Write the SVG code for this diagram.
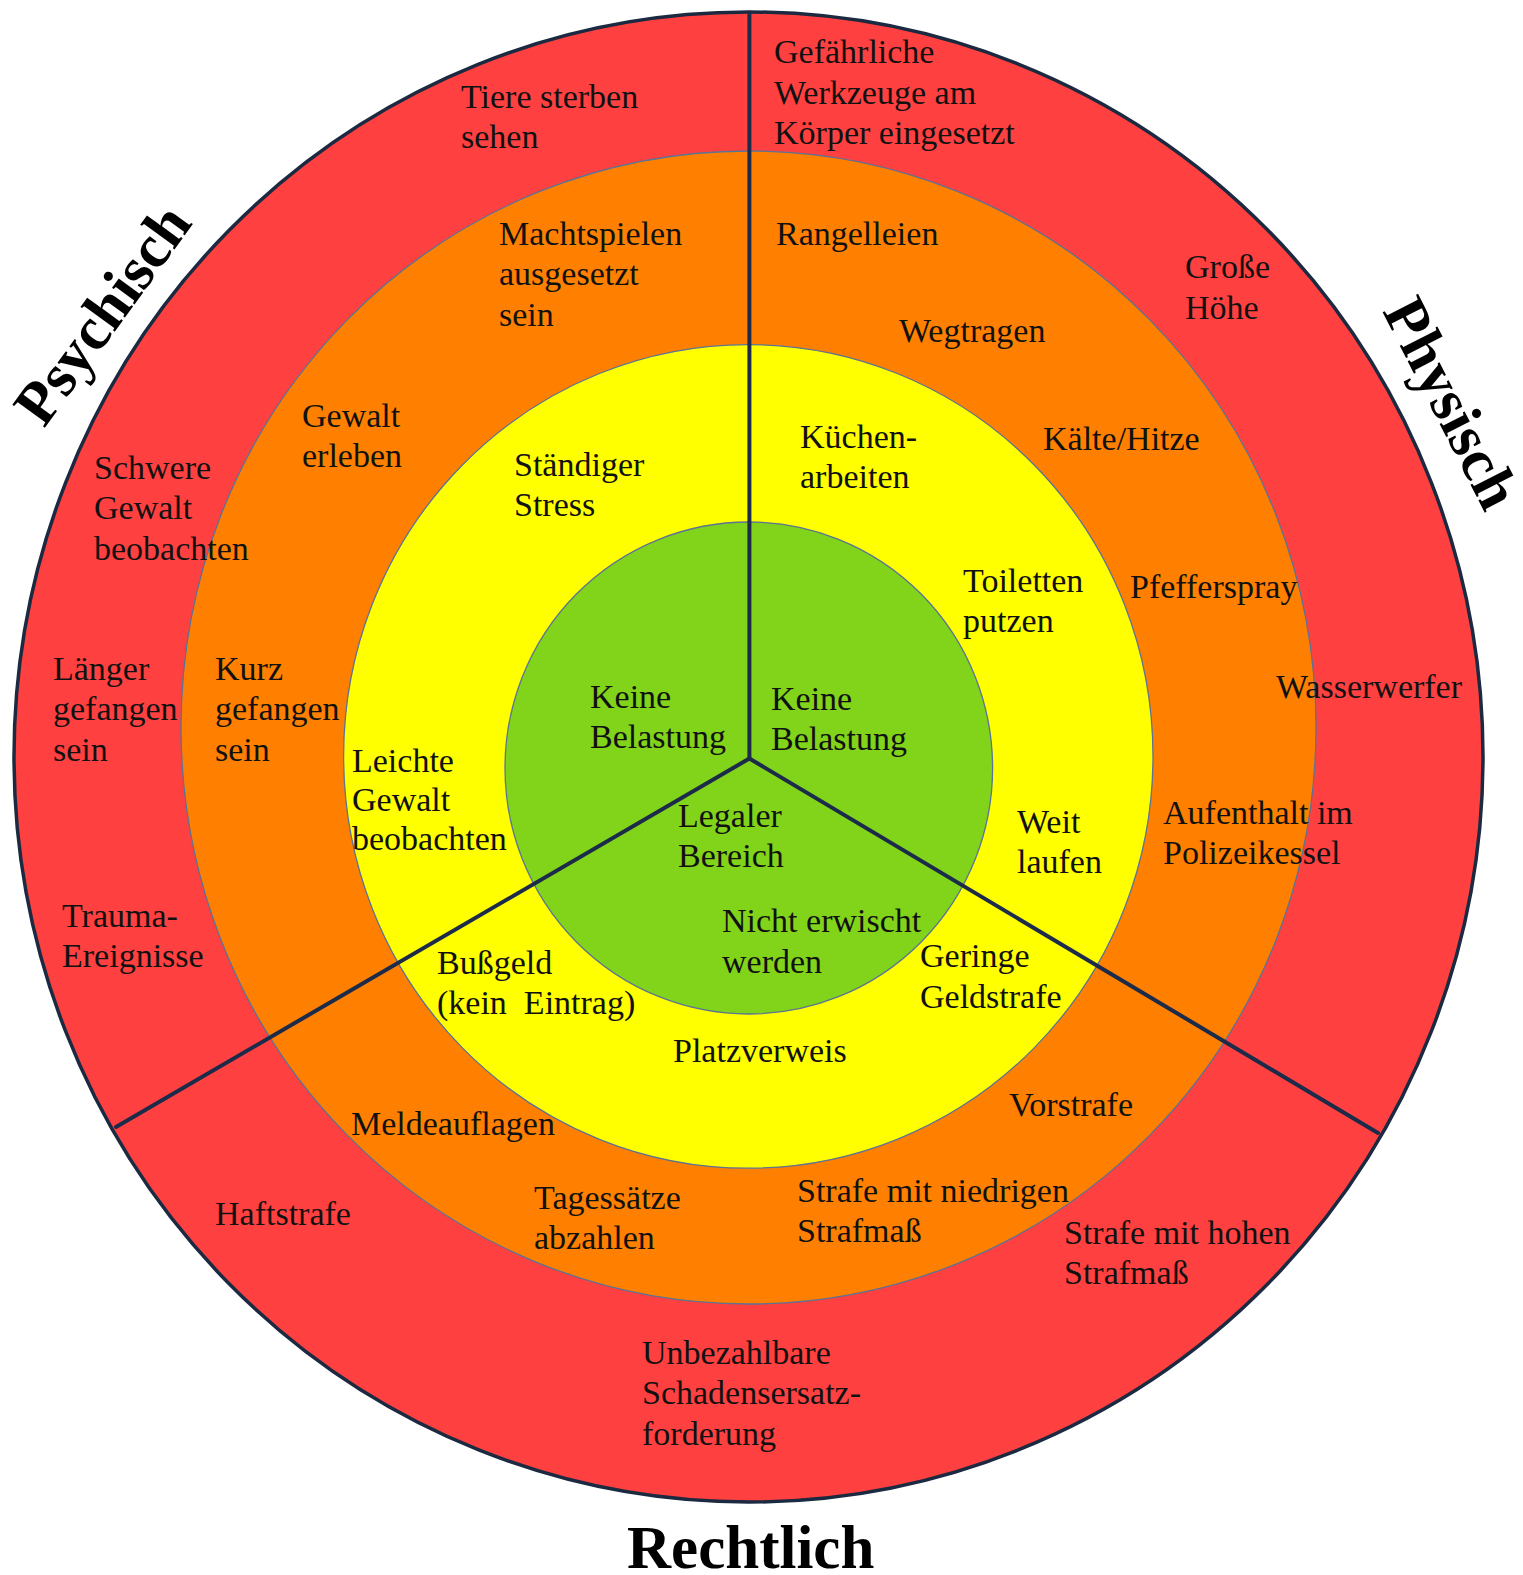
<svg xmlns="http://www.w3.org/2000/svg" width="1523" height="1575" viewBox="0 0 1523 1575">
<style>
.t{font-family:"Liberation Serif","Times New Roman",serif;font-size:34px;fill:#111}
.h{font-family:"Liberation Serif","Times New Roman",serif;font-size:61px;font-weight:bold;fill:#000}
.ring{stroke:#5b7394;stroke-width:1.3}
.sep{stroke:#1c2b4a;stroke-width:4;stroke-linecap:round;fill:none}
</style>
<rect width="1523" height="1575" fill="#fff"/>
<g id="rings">
<ellipse id="ring-red" cx="748.5" cy="757" rx="734.5" ry="745" fill="#ff4040" stroke="#1b2a40" stroke-width="3.5"/>
<ellipse id="ring-orange" class="ring" cx="748.5" cy="727.5" rx="567.5" ry="576.5" fill="#ff8000"/>
<ellipse id="ring-yellow" class="ring" cx="748.3" cy="756.4" rx="404.7" ry="411.8" fill="#ffff00"/>
<ellipse id="ring-green" class="ring" cx="748.8" cy="768" rx="243.8" ry="246" fill="#81d41a"/>
</g>
<g id="connectors">
<line class="sep" x1="749.4" y1="758.5" x2="749.4" y2="14"/>
<line class="sep" x1="749.4" y1="758.5" x2="116" y2="1127"/>
<line class="sep" x1="749.4" y1="758.5" x2="1378" y2="1133"/>
</g>
<g id="titles">
<text id="title-psychisch" class="h" transform="translate(44,429) rotate(-54)">Psychisch</text>
<text id="title-physisch" class="h" transform="translate(1382,311) rotate(63)">Physisch</text>
<text id="title-rechtlich" class="h" x="627" y="1568">Rechtlich</text>
</g>
<g id="labels">
<g id="n-tiere"><text class="t" x="461" y="107.5">Tiere sterben</text><text class="t" x="461" y="147.7">sehen</text></g>
<g id="n-werkzeuge"><text class="t" x="774" y="63.3">Gefährliche</text><text class="t" x="774" y="103.5">Werkzeuge am</text><text class="t" x="774" y="143.7">Körper eingesetzt</text></g>
<g id="n-macht"><text class="t" x="499" y="245">Machtspielen</text><text class="t" x="499" y="285.3">ausgesetzt</text><text class="t" x="499" y="325.5">sein</text></g>
<g id="n-rangel"><text class="t" x="776" y="245">Rangelleien</text></g>
<g id="n-hoehe"><text class="t" x="1185" y="278.3">Große</text><text class="t" x="1185" y="318.5">Höhe</text></g>
<g id="n-wegtragen"><text class="t" x="899" y="341.6">Wegtragen</text></g>
<g id="n-gewalt-erleben"><text class="t" x="302" y="427">Gewalt</text><text class="t" x="302" y="467">erleben</text></g>
<g id="n-schwere"><text class="t" x="94" y="479">Schwere</text><text class="t" x="94" y="519.4">Gewalt</text><text class="t" x="94" y="559.6">beobachten</text></g>
<g id="n-stress"><text class="t" x="514" y="476">Ständiger</text><text class="t" x="514" y="516">Stress</text></g>
<g id="n-kueche"><text class="t" x="800" y="448">Küchen-</text><text class="t" x="800" y="488">arbeiten</text></g>
<g id="n-kaelte"><text class="t" x="1043" y="450">Kälte/Hitze</text></g>
<g id="n-toiletten"><text class="t" x="963" y="591.7">Toiletten</text><text class="t" x="963" y="632">putzen</text></g>
<g id="n-pfeffer"><text class="t" x="1130" y="597.7">Pfefferspray</text></g>
<g id="n-laenger"><text class="t" x="53" y="680">Länger</text><text class="t" x="53" y="720">gefangen</text><text class="t" x="53" y="760.5">sein</text></g>
<g id="n-kurz"><text class="t" x="215" y="680">Kurz</text><text class="t" x="215" y="720">gefangen</text><text class="t" x="215" y="760.5">sein</text></g>
<g id="n-keine-l"><text class="t" x="590" y="708">Keine</text><text class="t" x="590" y="748">Belastung</text></g>
<g id="n-keine-r"><text class="t" x="771" y="710">Keine</text><text class="t" x="771" y="750">Belastung</text></g>
<g id="n-wasser"><text class="t" x="1276" y="698">Wasserwerfer</text></g>
<g id="n-leichte"><text class="t" x="352" y="771.5">Leichte</text><text class="t" x="352" y="810.7">Gewalt</text><text class="t" x="352" y="850">beobachten</text></g>
<g id="n-legal"><text class="t" x="678" y="827">Legaler</text><text class="t" x="678" y="867">Bereich</text></g>
<g id="n-weit"><text class="t" x="1017" y="833">Weit</text><text class="t" x="1017" y="873">laufen</text></g>
<g id="n-kessel"><text class="t" x="1163" y="824">Aufenthalt im</text><text class="t" x="1163" y="864">Polizeikessel</text></g>
<g id="n-trauma"><text class="t" x="62" y="927">Trauma-</text><text class="t" x="62" y="967">Ereignisse</text></g>
<g id="n-nicht"><text class="t" x="722" y="932">Nicht erwischt</text><text class="t" x="722" y="972.5">werden</text></g>
<g id="n-bussgeld"><text class="t" x="437" y="973.5">Bußgeld</text><text class="t" x="437" y="1013.6">(kein&#160; Eintrag)</text></g>
<g id="n-geringe"><text class="t" x="920" y="967.4">Geringe</text><text class="t" x="920" y="1007.6">Geldstrafe</text></g>
<g id="n-platz"><text class="t" x="673" y="1062">Platzverweis</text></g>
<g id="n-vorstrafe"><text class="t" x="1009" y="1116">Vorstrafe</text></g>
<g id="n-melde"><text class="t" x="351" y="1135">Meldeauflagen</text></g>
<g id="n-haft"><text class="t" x="215" y="1224.6">Haftstrafe</text></g>
<g id="n-tagessaetze"><text class="t" x="534" y="1208.5">Tagessätze</text><text class="t" x="534" y="1248.7">abzahlen</text></g>
<g id="n-niedrig"><text class="t" x="797" y="1201.5">Strafe mit niedrigen</text><text class="t" x="797" y="1241.7">Strafmaß</text></g>
<g id="n-hoch"><text class="t" x="1064" y="1243.7">Strafe mit hohen</text><text class="t" x="1064" y="1283.9">Strafmaß</text></g>
<g id="n-schaden"><text class="t" x="642" y="1364.2">Unbezahlbare</text><text class="t" x="642" y="1404.4">Schadensersatz-</text><text class="t" x="642" y="1444.6">forderung</text></g>
</g>
</svg>
